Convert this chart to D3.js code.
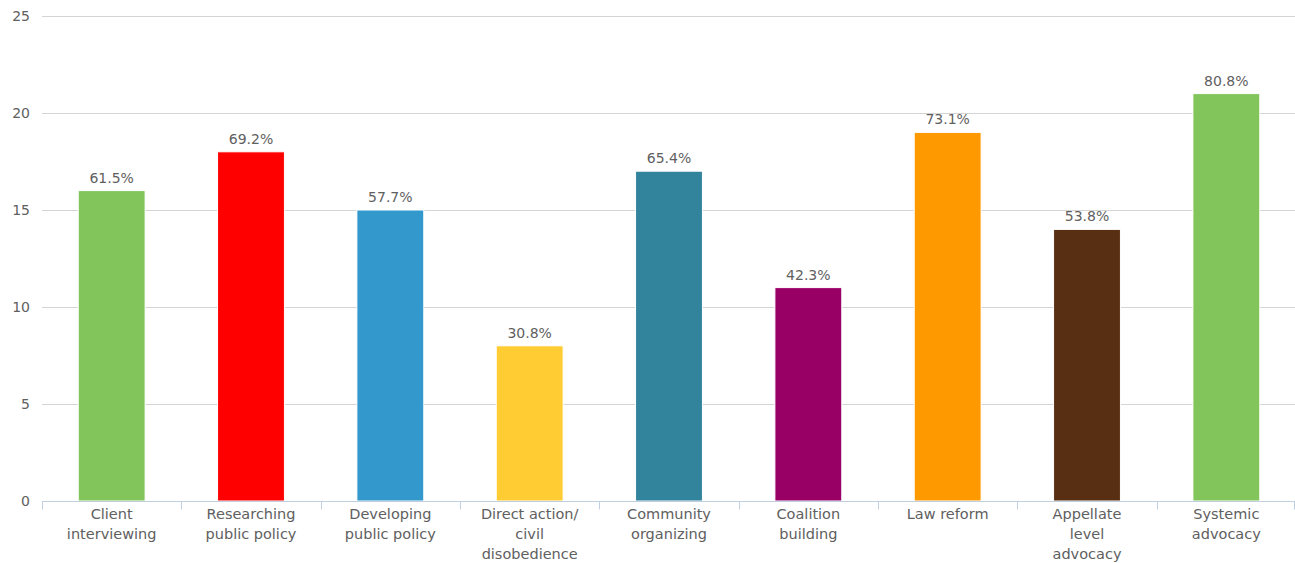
<!DOCTYPE html>
<html>
<head>
<meta charset="utf-8">
<script src="https://cdn.jsdelivr.net/npm/d3@7"></script>
<style>
  html, body { margin: 0; padding: 0; background: #fff; }
  svg { display: block; font-family: "DejaVu Sans", Verdana, sans-serif; }
</style>
</head>
<body>
<svg id="chart" width="1295" height="563"></svg>
<script>
// Category labels (line breaks mark where the axis label wraps)
const categories = [
  "Client\ninterviewing",
  "Researching\npublic policy",
  "Developing\npublic policy",
  "Direct action/\ncivil\ndisobedience",
  "Community\norganizing",
  "Coalition\nbuilding",
  "Law reform",
  "Appellate\nlevel\nadvocacy",
  "Systemic\nadvocacy"
];
// Number of respondents per activity
const counts = [16, 18, 15, 8, 17, 11, 19, 14, 21];
// Share of respondents, shown above each bar
const percentLabels = ["61.5%", "69.2%", "57.7%", "30.8%", "65.4%", "42.3%", "73.1%", "53.8%", "80.8%"];
const barColors = ["#82c55b", "#ff0000", "#3398cc", "#ffcc33", "#31849b", "#990066", "#ff9900", "#582f12", "#82c55b"];
const yTicks = [0, 5, 10, 15, 20, 25];

const margin = { left: 42, right: 0, top: 16, bottom: 62 };
const W = 1295, H = 563;

const svg = d3.select("#chart");

const x = d3.scaleBand()
  .domain(d3.range(categories.length))
  .range([margin.left, W - margin.right + 1])
  .paddingInner(0.52)
  .paddingOuter(0.26);

const band = d3.scaleBand()
  .domain(d3.range(categories.length))
  .range([margin.left, W - margin.right + 1]);

const y = d3.scaleLinear().domain([0, 25]).range([H - margin.bottom, margin.top]);

// Horizontal grid lines
svg.append("g")
  .selectAll("line")
  .data(yTicks.filter(d => d > 0))
  .join("line")
  .attr("x1", margin.left).attr("x2", W)
  .attr("y1", d => Math.round(y(d)) + 0.5).attr("y2", d => Math.round(y(d)) + 0.5)
  .attr("stroke", "#d4d4d4").attr("stroke-width", 1);

// Y axis labels
svg.append("g")
  .selectAll("text")
  .data(yTicks)
  .join("text")
  .attr("x", 30)
  .attr("y", d => y(d) + 5)
  .attr("text-anchor", "end")
  .attr("font-size", 14)
  .attr("fill", "#606060")
  .text(d => d);

// Bars
svg.append("g")
  .selectAll("rect")
  .data(counts)
  .join("rect")
  .attr("x", (d, i) => x(i))
  .attr("width", x.bandwidth())
  .attr("y", d => y(d))
  .attr("height", d => y(0) - y(d))
  .attr("fill", (d, i) => barColors[i])
  .attr("stroke", "#ffffff")
  .attr("stroke-width", 1);

// Value labels
svg.append("g")
  .selectAll("text")
  .data(counts)
  .join("text")
  .attr("x", (d, i) => x(i) + x.bandwidth() / 2)
  .attr("y", d => y(d) - 8)
  .attr("text-anchor", "middle")
  .attr("font-size", 14)
  .attr("fill", "#606060")
  .text((d, i) => percentLabels[i]);

// X axis line and ticks
const xAxisY = Math.round(y(0)) + 0.5;
svg.append("line")
  .attr("x1", margin.left).attr("x2", W)
  .attr("y1", xAxisY).attr("y2", xAxisY)
  .attr("stroke", "#c0d0e0").attr("stroke-width", 1);

svg.append("g")
  .selectAll("line")
  .data(d3.range(categories.length + 1))
  .join("line")
  .attr("x1", i => Math.round(i < categories.length ? band(i) : W - 1) + 0.5)
  .attr("x2", i => Math.round(i < categories.length ? band(i) : W - 1) + 0.5)
  .attr("y1", xAxisY).attr("y2", xAxisY + 8)
  .attr("stroke", "#c0d0e0").attr("stroke-width", 1);

// Category labels
const labels = svg.append("g")
  .selectAll("text")
  .data(categories)
  .join("text")
  .attr("x", (d, i) => band(i) + band.bandwidth() / 2)
  .attr("y", 519)
  .attr("text-anchor", "middle")
  .attr("font-size", 14.5)
  .attr("fill", "#606060");

labels.selectAll("tspan")
  .data((d, i) => d.split("\n").map(t => ({ t, i })))
  .join("tspan")
  .attr("x", d => band(d.i) + band.bandwidth() / 2)
  .attr("dy", (d, j) => j === 0 ? 0 : 20)
  .text(d => d.t);
</script>
</body>
</html>
